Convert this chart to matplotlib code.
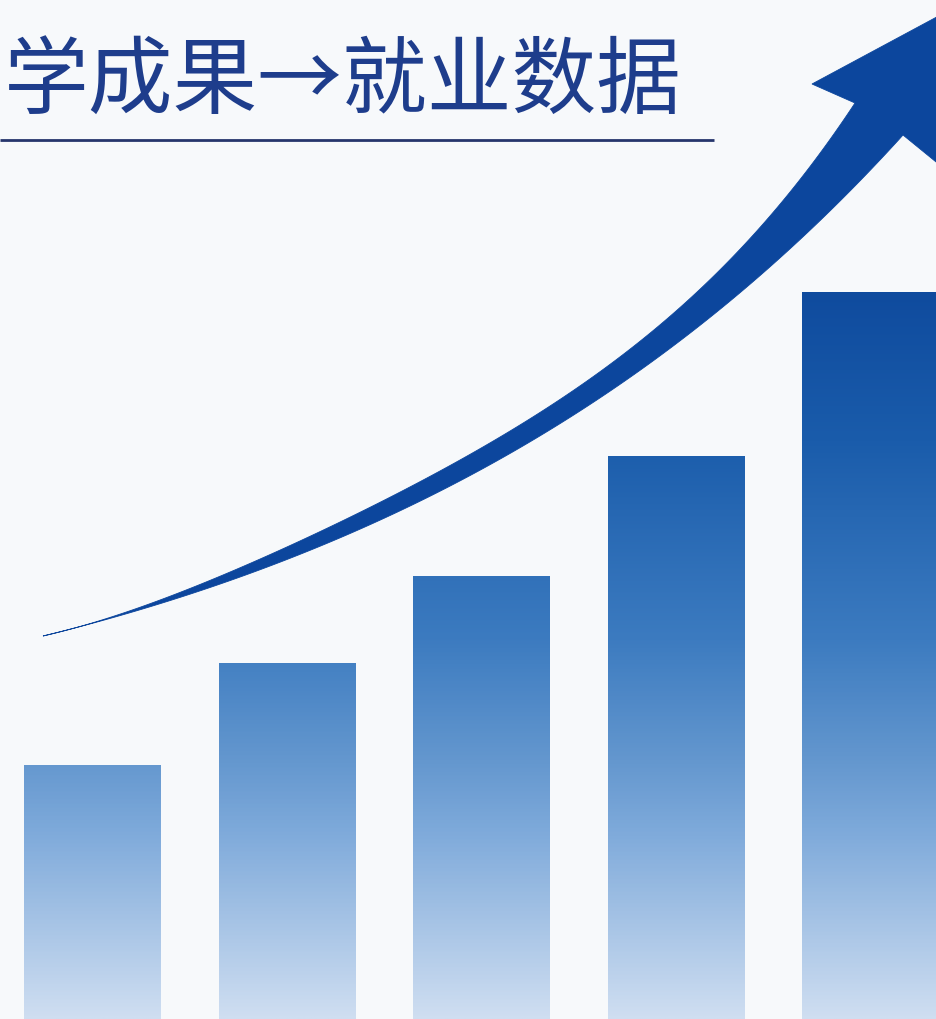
import numpy as np
import matplotlib.pyplot as plt
from matplotlib.patches import Polygon
from matplotlib.colors import LinearSegmentedColormap

# chart data
title = "学成果→就业数据"
positions = np.arange(5)
values = [35, 49, 61, 77.5, 100]

# bar fill: colour by height in the picture (pixel y from top -> colour)
grad_y = [0, 292, 440, 640, 765, 830, 1019]
grad_c = ["#0c479a", "#0f4b9e", "#1a5cab", "#3c7bc0", "#6598cf", "#7da9da", "#cfdef1"]

# arrow outline (pixel coords, y down)
upper_x = [43, 200, 300, 400, 500, 620, 720, 760, 790, 827, 855]
upper_y = [636, 582, 541, 497, 436, 352, 272, 224, 196, 150, 103]
lower_x = [43, 200, 300, 400, 500, 620, 720, 760, 793, 827, 870, 903]
lower_y = [636, 591, 552, 514, 458, 387, 307, 270, 245, 218, 180, 135]
arrow_head = [(812, 84), (946, 12), (941, 166)]

W, H = 937, 1019
bg = "#f7f9fb"
navy = "#0c469d"


def smooth_edge(xs, ys, deg=4):
    xs = np.asarray(xs, float)
    ys = np.asarray(ys, float)
    w = np.ones_like(xs)
    w[0] = w[-1] = 12
    c = np.polyfit(xs, ys, deg, w=w)
    xx = np.linspace(xs[0], xs[-1], 200)
    yy = np.polyval(c, xx)
    yy[0], yy[-1] = ys[0], ys[-1]
    return np.column_stack([xx, yy])


fig = plt.figure(figsize=(W / 100, H / 100), dpi=100)
fig.patch.set_facecolor(bg)

# bars with vertical gradient
ax = fig.add_axes([0, 0, 1, 1])
ax.set_facecolor(bg)
bw = 0.70
ytop = 140.2
bars = ax.bar(positions, values, width=bw, color="none", edgecolor="none")
cmap = LinearSegmentedColormap.from_list("bars", list(zip(np.array(grad_y) / H, grad_c)))
grad = np.linspace(0, 1, 512).reshape(-1, 1)
for b in bars:
    x0 = b.get_x()
    im = ax.imshow(grad, cmap=cmap, aspect="auto", vmin=0, vmax=1,
                   extent=(x0, x0 + bw, 0, ytop), origin="upper", interpolation="bilinear")
    im.set_clip_path(b)
ax.set_xlim(-92.5 / 194.4, (W - 92.5) / 194.4)
ax.set_ylim(0, ytop)
ax.axis("off")

# overlay in pixel coords: arrow, title, rule
ax2 = fig.add_axes([0, 0, 1, 1])
ax2.patch.set_alpha(0)
ax2.set_xlim(0, W)
ax2.set_ylim(H, 0)
ax2.axis("off")

up = smooth_edge(upper_x, upper_y)
lo = smooth_edge(lower_x, lower_y)
outline = np.vstack([up, np.array(arrow_head), lo[::-1]])
ax2.add_patch(Polygon(outline, closed=True, facecolor=navy, edgecolor=navy, lw=0.6,
                      joinstyle="miter", zorder=5))

ax2.text(4, 84, title, fontsize=61, color="#1e3d8c", ha="left", va="center",
         family=["Noto Sans CJK SC", "DejaVu Sans"])
ax2.plot([0, 714], [140, 140], color="#26356c", lw=2.0, solid_capstyle="butt")

fig.savefig("out.png", dpi=100, facecolor=bg)
